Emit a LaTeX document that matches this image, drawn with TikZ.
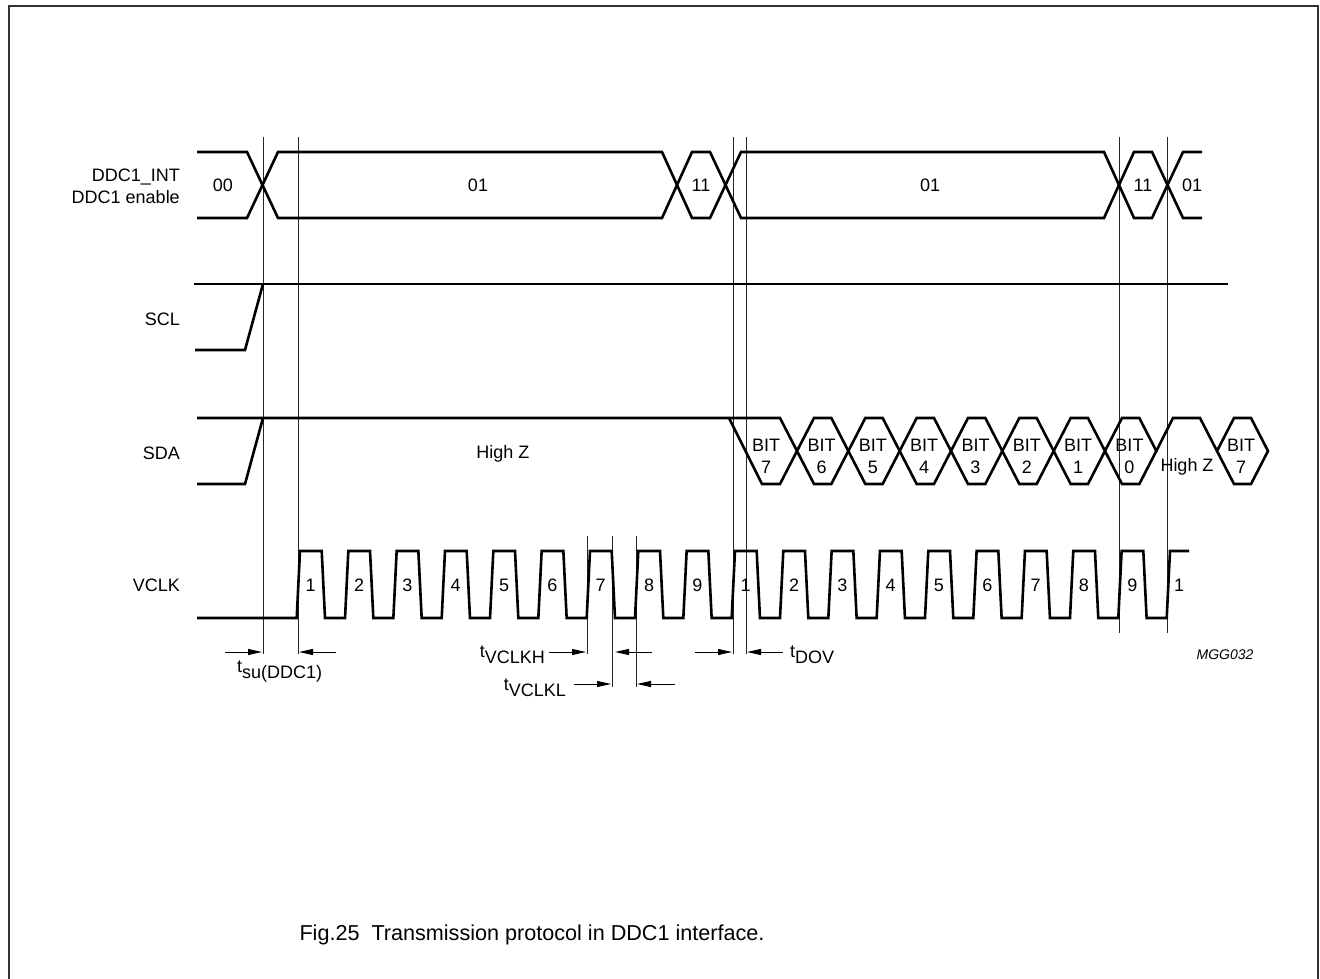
\documentclass[tikz,border=0pt]{standalone}
\usepackage{fontspec}
\setmainfont{Liberation Sans}
\usetikzlibrary{arrows.meta}
\newcommand{\tsb}[2]{#1\raisebox{-6pt}{#2}}

\begin{document}
\begin{tikzpicture}[x=1pt, y=-1pt,
  sig/.style={line width=2.6pt, line join=miter},
  guide/.style={line width=1pt, black!85},
  tarr/.style={line width=1pt, -{Triangle[length=14pt, width=6pt]}},
  lbl/.style={font=\fontsize{18}{22}\selectfont, inner sep=0pt, anchor=base}]
  \useasboundingbox (0,0) rectangle (1320,979);
  \draw[line width=2pt, black!80] (9,990) -- (9,6) -- (1318,6) -- (1318,990);

  % guide lines
  \foreach \gn/\gx/\gy/\gb in {gsu/263/137/654, gvc/298/137/654, gkh/587/536/654,
      gkl/612/536/687, geight/636/536/687, gda/733/137/654, gdo/746/137/654,
      gnine/1119/137/633, gone/1167/137/633} {
    \draw[guide] (\gx,\gy) -- (\gx,\gb);
    \coordinate (\gn) at (\gx,652);
  }
  \coordinate (gklb) at (612,684);
  \coordinate (geightb) at (636,684);

  % signal names
  \node[lbl, anchor=base east] (nint) at (180,182) {DDC1\_INT};
  \node[lbl, anchor=base east] (nen) at (180,204) {DDC1 enable};
  \node[lbl, anchor=base east] (nscl) at (180,325) {SCL};
  \node[lbl, anchor=base east] (nsda) at (180,459) {SDA};
  \node[lbl, anchor=base east] (nvclk) at (180,591) {VCLK};

  % DDC1_INT
  \draw[sig] (197,152) -- (247,152) -- (278,218) -- (662,218) -- (692,152) -- (710,152)
    -- (741,218) -- (1104,218) -- (1134,152) -- (1152,152) -- (1183,218) -- (1202,218);
  \draw[sig] (197,218) -- (247,218) -- (278,152) -- (662,152) -- (692,218) -- (710,218)
    -- (741,152) -- (1104,152) -- (1134,218) -- (1152,218) -- (1183,152) -- (1202,152);
  \foreach \bx/\bt in {223/00, 478/01, 701/11, 930/01, 1143/11, 1192/01}
    \node[lbl] (bus\bx) at (\bx,191) {\bt};

  % SCL
  \draw[sig] (194,284) -- (1228,284);
  \draw[sig] (195,350) -- (245,350) -- (263,284);

  % SDA
  \draw[sig] (197,418) -- (780,418) -- (797,451);
  \draw[sig] (197,484) -- (245,484) -- (263,418);
  \draw[sig] (729,418) -- (762,484) -- (780,484) -- (797,451);
  \node[lbl] (hz) at (503,458) {High Z};
  \node[lbl] (bitA) at (766,451) {BIT};
  \node[lbl] (digA) at (766,473) {7};
  \foreach \k in {0,...,6} {
    \pgfmathsetmacro\c{797+51.33*\k}
    \pgfmathtruncatemacro\b{6-\k}
    \draw[sig] (\c,451) -- ({\c+17},418) -- ({\c+34.33},418) -- ({\c+51.33},451)
      -- ({\c+34.33},484) -- ({\c+17},484) -- cycle;
    \node[lbl] (bit\k) at ({\c+24.5},451) {BIT};
    \node[lbl] (dig\k) at ({\c+24.5},473) {\b};
  }
  \draw[sig] (1156.3,451) -- (1173,418) -- (1200,418) -- (1217,451);
  \draw[sig] (1217,451) -- (1234,418) -- (1251,418) -- (1268,451) -- (1251,484)
    -- (1234,484) -- cycle;
  \node[lbl] (hzb) at (1187,471) {High Z};
  \node[lbl] (bitB) at (1241,451) {BIT};
  \node[lbl] (digB) at (1241,473) {7};

  % VCLK
  \draw[sig] (197,618) foreach \i in {0,...,17} {
      -- ({296.7+48.33*\i},618) -- ({300+48.33*\i},551)
      -- ({321.7+48.33*\i},551) -- ({325+48.33*\i},618) }
    -- (1166.7,618) -- (1170,551) -- (1189,551);
  \foreach \i in {0,...,17} {
    \pgfmathtruncatemacro\n{mod(\i,9)+1}
    \node[lbl] (clk\i) at ({310.7+48.33*\i},591) {\n};
  }
  \node[lbl] (clklast) at (1179,591) {1};

  % timing
  \draw[tarr] ([xshift=-38pt]gsu) -- ([xshift=-1pt]gsu);
  \draw[tarr] ([xshift=38pt]gvc) -- ([xshift=1pt]gvc);
  \draw[tarr] ([xshift=-38pt]gkh) -- ([xshift=-1pt]gkh);
  \draw[tarr] ([xshift=40pt]gkl) -- ([xshift=3pt]gkl);
  \draw[tarr] ([xshift=-38pt]gklb) -- ([xshift=-1pt]gklb);
  \draw[tarr] ([xshift=39pt]geightb) -- ([xshift=1pt]geightb);
  \draw[tarr] ([xshift=-38pt]gda) -- ([xshift=-1pt]gda);
  \draw[tarr] ([xshift=37pt]gdo) -- ([xshift=1pt]gdo);
  \node[lbl, anchor=base west] (tsu) at (237,672) {\tsb{t}{su(DDC1)}};
  \node[lbl, anchor=base east] (tkh) at (545,657) {\tsb{t}{VCLKH}};
  \node[lbl, anchor=base east] (tkl) at (566,690) {\tsb{t}{VCLKL}};
  \node[lbl, anchor=base west] (tdo) at (790,657) {\tsb{t}{DOV}};

  \node[font=\fontsize{14}{16}\selectfont\itshape, inner sep=0pt] (ref) at (1225,655) {MGG032};
  \node[font=\fontsize{21.6}{25}\selectfont, inner sep=0pt] (cap) at (532,935)
    {Fig.25\ \ Transmission protocol in DDC1 interface.};
\end{tikzpicture}
\end{document}
